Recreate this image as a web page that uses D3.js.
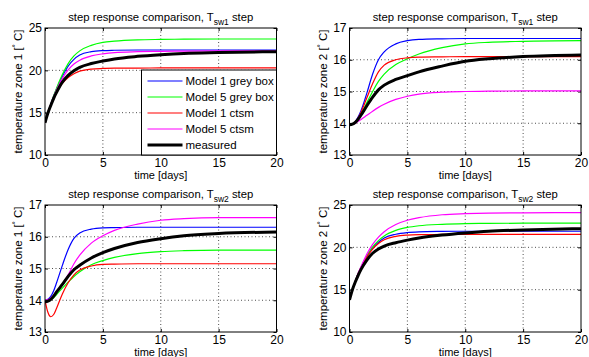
<!DOCTYPE html>
<html>
<head>
<meta charset="utf-8">
<script src="https://cdn.jsdelivr.net/npm/d3@7"></script>
<style>
  body { margin: 0; background: #fff; }
  text { font-family: "Liberation Sans", Arial, Helvetica, sans-serif; fill: #000; }
</style>
</head>
<body>
<div id="chart"></div>
<script>
// time axis (days) shared by every curve
var days = [0, 0.25, 0.5, 0.75, 1, 1.5, 2, 2.5, 3, 4, 5, 6, 8, 10, 12, 15, 20];

// Tsw1 step, zone 1
var sw1z1_m1gb   = [13.8, 15.0, 16.0, 16.95, 17.8, 19.3, 20.5, 21.3, 21.8, 22.2, 22.33, 22.37, 22.4, 22.4, 22.4, 22.4, 22.4];
var sw1z1_m5gb   = [13.8, 15.0, 16.0, 17.0, 17.9, 19.5, 20.8, 21.7, 22.3, 22.95, 23.3, 23.45, 23.6, 23.65, 23.68, 23.7, 23.7];
var sw1z1_m1ctsm = [13.8, 15.0, 15.9, 16.7, 17.4, 18.45, 19.15, 19.6, 19.9, 20.15, 20.22, 20.25, 20.27, 20.28, 20.28, 20.28, 20.28];
var sw1z1_m5ctsm = [13.8, 15.0, 16.0, 16.9, 17.7, 19.05, 20.05, 20.75, 21.2, 21.7, 21.95, 22.1, 22.2, 22.25, 22.28, 22.3, 22.3];
var sw1z1_meas   = [13.8, 14.95, 15.85, 16.7, 17.4, 18.6, 19.4, 19.95, 20.35, 20.8, 21.1, 21.35, 21.65, 21.85, 22.0, 22.1, 22.2];

// Tsw1 step, zone 2
var sw1z2_m1gb   = [13.95, 13.97, 14.05, 14.2, 14.4, 14.95, 15.55, 16.0, 16.25, 16.5, 16.6, 16.64, 16.66, 16.67, 16.67, 16.67, 16.67];
var sw1z2_m5gb   = [13.95, 13.97, 14.03, 14.14, 14.28, 14.65, 15.0, 15.32, 15.55, 15.85, 16.03, 16.18, 16.38, 16.5, 16.55, 16.58, 16.6];
var sw1z2_m1ctsm = [13.95, 13.97, 14.04, 14.17, 14.35, 14.8, 15.25, 15.62, 15.83, 16.0, 16.06, 16.08, 16.09, 16.1, 16.1, 16.1, 16.1];
var sw1z2_m5ctsm = [13.95, 13.96, 14.0, 14.06, 14.12, 14.25, 14.38, 14.5, 14.6, 14.75, 14.85, 14.92, 14.98, 15.0, 15.01, 15.02, 15.02];
var sw1z2_meas   = [13.95, 13.97, 14.03, 14.13, 14.26, 14.55, 14.82, 15.05, 15.2, 15.38, 15.5, 15.62, 15.8, 15.95, 16.03, 16.1, 16.15];

// Tsw2 step, zone 1
var sw2z1_m1gb   = [14.0, 14.03, 14.12, 14.3, 14.55, 15.1, 15.6, 15.95, 16.12, 16.24, 16.28, 16.29, 16.3, 16.3, 16.3, 16.3, 16.3];
var sw2z1_m5gb   = [14.0, 13.99, 14.02, 14.08, 14.18, 14.38, 14.57, 14.75, 14.9, 15.12, 15.25, 15.35, 15.47, 15.53, 15.56, 15.58, 15.58];
var sw2z1_m1ctsm = [14.0, 13.62, 13.48, 13.55, 13.75, 14.2, 14.55, 14.8, 14.95, 15.08, 15.13, 15.14, 15.15, 15.15, 15.15, 15.15, 15.15];
var sw2z1_m5ctsm = [14.0, 14.02, 14.07, 14.15, 14.25, 14.5, 14.8, 15.15, 15.42, 15.8, 16.03, 16.2, 16.4, 16.52, 16.57, 16.6, 16.6];
var sw2z1_meas   = [13.95, 13.97, 14.03, 14.13, 14.26, 14.5, 14.75, 14.96, 15.1, 15.33, 15.5, 15.63, 15.82, 15.94, 16.03, 16.1, 16.15];

// Tsw2 step, zone 2
var sw2z2_m1gb   = [13.8, 15.0, 16.0, 16.9, 17.6, 18.9, 19.9, 20.6, 21.1, 21.55, 21.75, 21.83, 21.88, 21.9, 21.9, 21.9, 21.9];
var sw2z2_m5gb   = [13.8, 15.0, 16.0, 16.9, 17.65, 19.0, 20.05, 20.8, 21.35, 22.0, 22.35, 22.55, 22.72, 22.8, 22.83, 22.85, 22.85];
var sw2z2_m1ctsm = [13.8, 15.0, 16.0, 16.9, 17.6, 18.85, 19.8, 20.45, 20.9, 21.3, 21.45, 21.5, 21.52, 21.52, 21.52, 21.52, 21.52];
var sw2z2_m5ctsm = [13.8, 15.0, 16.0, 16.95, 17.75, 19.2, 20.35, 21.2, 21.85, 22.7, 23.2, 23.5, 23.85, 23.98, 24.05, 24.08, 24.1];
var sw2z2_meas   = [13.8, 15.0, 15.9, 16.7, 17.4, 18.5, 19.3, 19.8, 20.15, 20.55, 20.85, 21.1, 21.45, 21.7, 21.9, 22.05, 22.2];

var seriesNames = ["Model 1 grey box", "Model 5 grey box", "Model 1 ctsm", "Model 5 ctsm", "measured"];
var seriesColors = ["#0000ff", "#00ff00", "#ff0000", "#ff00ff", "#000000"];
var seriesWidths = [1.2, 1.2, 1.2, 1.2, 3];

var xTicks = [0, 5, 10, 15, 20];
var yTicksZone1 = [10, 15, 20, 25];
var yTicksZone2 = [13, 14, 15, 16, 17];

var panels = [
  { left: 45,    top: 28,  sub: "sw1", zone: 1, yDomain: [10, 25], yTicks: yTicksZone1,
    series: [sw1z1_m1gb, sw1z1_m5gb, sw1z1_m1ctsm, sw1z1_m5ctsm, sw1z1_meas], legend: true },
  { left: 349.5, top: 28,  sub: "sw1", zone: 2, yDomain: [13, 17], yTicks: yTicksZone2,
    series: [sw1z2_m1gb, sw1z2_m5gb, sw1z2_m1ctsm, sw1z2_m5ctsm, sw1z2_meas] },
  { left: 45,    top: 205, sub: "sw2", zone: 1, yDomain: [13, 17], yTicks: yTicksZone2,
    series: [sw2z1_m1gb, sw2z1_m5gb, sw2z1_m1ctsm, sw2z1_m5ctsm, sw2z1_meas] },
  { left: 349.5, top: 205, sub: "sw2", zone: 2, yDomain: [10, 25], yTicks: yTicksZone1,
    series: [sw2z2_m1gb, sw2z2_m5gb, sw2z2_m1ctsm, sw2z2_m5ctsm, sw2z2_meas] }
];

var W = 589, H = 357,
    pw = 231.5, ph = 127;

var svg = d3.select("#chart").append("svg")
    .attr("width", W)
    .attr("height", H);

svg.append("defs").selectAll("clipPath")
    .data(panels)
  .enter().append("clipPath")
    .attr("id", function(d, i) { return "clip" + i; })
  .append("rect")
    .attr("width", pw)
    .attr("height", ph);

panels.forEach(function(p, pi) {
  var g = svg.append("g")
      .attr("transform", "translate(" + p.left + "," + p.top + ")");

  var x = d3.scaleLinear().domain([0, 20]).range([0, pw]);
  var y = d3.scaleLinear().domain(p.yDomain).range([ph, 0]);

  // dotted grid
  g.selectAll("line.gx")
      .data(xTicks.slice(1, -1))
    .enter().append("line")
      .attr("x1", function(d) { return x(d); })
      .attr("x2", function(d) { return x(d); })
      .attr("y1", 0).attr("y2", ph)
      .attr("stroke", "#000").attr("stroke-width", 0.7)
      .attr("stroke-dasharray", "1,2.5");
  g.selectAll("line.gy")
      .data(p.yTicks.slice(1, -1))
    .enter().append("line")
      .attr("y1", function(d) { return y(d); })
      .attr("y2", function(d) { return y(d); })
      .attr("x1", 0).attr("x2", pw)
      .attr("stroke", "#000").attr("stroke-width", 0.7)
      .attr("stroke-dasharray", "1,2.5");

  // axes, ticks pointing inwards like matlab
  g.append("g").attr("transform", "translate(0," + ph + ")")
      .call(d3.axisBottom(x).tickValues(xTicks).tickSize(-3).tickPadding(3).tickFormat(d3.format("d")));
  g.append("g")
      .call(d3.axisTop(x).tickValues(xTicks).tickSize(-3).tickFormat(""));
  g.append("g")
      .call(d3.axisLeft(y).tickValues(p.yTicks).tickSize(-3).tickPadding(3).tickFormat(d3.format("d")));
  g.append("g").attr("transform", "translate(" + pw + ",0)")
      .call(d3.axisRight(y).tickValues(p.yTicks).tickSize(-3).tickFormat(""));
  g.selectAll(".domain").remove();
  g.selectAll(".tick line").attr("stroke", "#000");
  g.selectAll(".tick text")
      .attr("font-size", "12px")
      .attr("font-family", "Liberation Sans, Arial, sans-serif");

  // curves
  var line = d3.line()
      .x(function(d) { return x(d[0]); })
      .y(function(d) { return y(d[1]); })
      .curve(d3.curveMonotoneX);

  var curves = g.append("g").attr("clip-path", "url(#clip" + pi + ")");
  p.series.forEach(function(vals, si) {
    curves.append("path")
        .datum(days.map(function(t, k) { return [t, vals[k]]; }))
        .attr("d", line)
        .attr("fill", "none")
        .attr("stroke", seriesColors[si])
        .attr("stroke-width", seriesWidths[si])
        .attr("stroke-linejoin", "round");
  });

  // box
  g.append("rect")
      .attr("width", pw).attr("height", ph)
      .attr("fill", "none").attr("stroke", "#000").attr("stroke-width", 1);

  // title
  var title = g.append("text")
      .attr("x", pw / 2).attr("y", -7)
      .attr("text-anchor", "middle")
      .attr("font-size", "11.3px");
  title.append("tspan").text("step response comparison, T");
  title.append("tspan").attr("font-size", "8.5px").attr("dy", 4).text(p.sub);
  title.append("tspan").attr("dy", -4).text(" step");

  // x label
  g.append("text")
      .attr("x", pw / 2).attr("y", ph + 23.5)
      .attr("text-anchor", "middle")
      .attr("font-size", "11px")
      .text("time [days]");

  // y label
  var yl = g.append("text")
      .attr("transform", "translate(-23," + (ph / 2) + ") rotate(-90)")
      .attr("text-anchor", "middle")
      .attr("font-size", "11.5px");
  yl.append("tspan").text("temperature zone " + p.zone + " [");
  yl.append("tspan").attr("font-size", "8px").attr("dy", -4).text("°");
  yl.append("tspan").attr("dy", 4).text(" C]");

  // legend
  if (p.legend) {
    var lw = 135, lh = 85;
    var lg = g.append("g").attr("transform", "translate(" + (pw - lw) + "," + (ph - lh) + ")");
    lg.append("rect")
        .attr("width", lw).attr("height", lh)
        .attr("fill", "#fff").attr("stroke", "#000").attr("stroke-width", 1);
    var rows = lg.selectAll("g.row")
        .data(seriesNames)
      .enter().append("g")
        .attr("transform", function(d, i) { return "translate(0," + (11 + i * 16) + ")"; });
    rows.append("line")
        .attr("x1", 6).attr("x2", 41)
        .attr("stroke", function(d, i) { return seriesColors[i]; })
        .attr("stroke-width", function(d, i) { return seriesWidths[i]; });
    rows.append("text")
        .attr("x", 44).attr("y", 4)
        .attr("font-size", "11.5px")
        .text(function(d) { return d; });
  }
});
</script>
</body>
</html>
